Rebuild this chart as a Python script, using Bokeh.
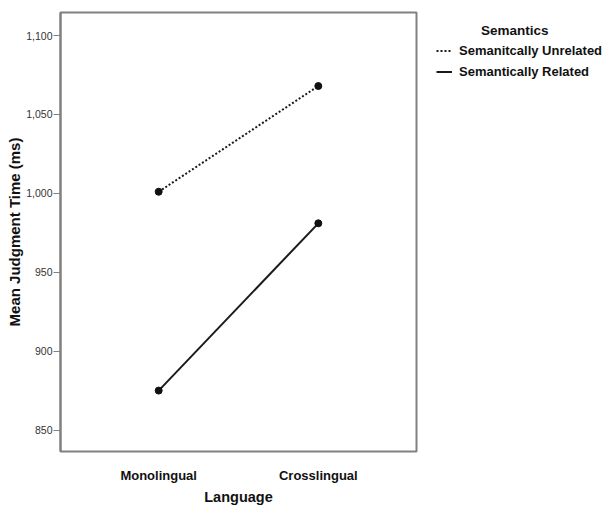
from bokeh.plotting import figure
from bokeh.models import (FixedTicker, NumeralTickFormatter, Range1d, Legend,
                          LegendItem)
from bokeh.embed import file_html
from bokeh.resources import INLINE

# ---- data ----
languages = ["Monolingual", "Crosslingual"]
unrelated = [1001, 1068]   # Semanitcally Unrelated
related = [875, 981]       # Semantically Related
y_ticks = [850, 900, 950, 1000, 1050, 1100]
legend_title = "Semantics"
series_names = ["Semanitcally Unrelated", "Semantically Related"]

FONT = "Liberation Sans"
xs = list(range(len(languages)))

p = figure(frame_width=356, frame_height=439, output_backend="svg",
           toolbar_location=None, min_border_left=60, min_border_top=12,
           min_border_right=188, min_border_bottom=54,
           x_range=Range1d(-0.615, 1.615), y_range=Range1d(836.4, 1114.6))

p.background_fill_color = "white"
p.border_fill_color = "white"
p.outline_line_color = "#808080"
p.outline_line_width = 2
p.xgrid.visible = False
p.ygrid.visible = False

# x axis
xa = p.xaxis[0]
xa.ticker = FixedTicker(ticks=xs)
xa.major_label_overrides = {i: lab for i, lab in zip(xs, languages)}
xa.axis_line_color = None
xa.major_tick_line_color = None
xa.minor_tick_line_color = None
xa.major_label_standoff = 10
xa.major_label_text_font = FONT
xa.major_label_text_font_style = "bold"
xa.major_label_text_font_size = "13px"
xa.major_label_text_color = "#111111"
xa.axis_label = "Language"
xa.axis_label_text_font = FONT
xa.axis_label_text_font_style = "bold"
xa.axis_label_text_font_size = "14.5px"
xa.axis_label_text_color = "#111111"
xa.axis_label_standoff = 3

# y axis
ya = p.yaxis[0]
ya.ticker = FixedTicker(ticks=y_ticks)
ya.formatter = NumeralTickFormatter(format="0,0")
ya.axis_line_color = "#808080"
ya.axis_line_width = 2
ya.major_tick_line_color = "#808080"
ya.major_tick_out = 7
ya.major_tick_in = 0
ya.minor_tick_line_color = None
ya.major_label_standoff = 1
ya.major_label_text_font = FONT
ya.major_label_text_font_size = "10.5px"
ya.major_label_text_color = "#333333"
ya.axis_label = "Mean Judgment Time (ms)"
ya.axis_label_text_font = FONT
ya.axis_label_text_font_style = "bold"
ya.axis_label_text_font_size = "15px"
ya.axis_label_text_color = "#111111"
ya.axis_label_standoff = 0

LINE = "#1a1a1a"
r_un = p.line(xs, unrelated, line_color=LINE, line_width=2, line_dash="2 2")
p.scatter(xs, unrelated, size=7, color="#111111")
r_rel = p.line(xs, related, line_color=LINE, line_width=2)
p.scatter(xs, related, size=7, color="#111111")

legend = Legend(items=[LegendItem(label=series_names[0], renderers=[r_un]),
                       LegendItem(label=series_names[1], renderers=[r_rel])],
                location=(20, 372), padding=0, margin=0, spacing=6,
                glyph_width=16, glyph_height=15, label_height=15,
                label_standoff=7, border_line_color=None,
                background_fill_alpha=0,
                title="\u00a0" * 12 + legend_title, title_standoff=5)
legend.label_text_font = FONT
legend.label_text_font_style = "bold"
legend.label_text_font_size = "13px"
legend.label_text_color = "#111111"
legend.title_text_font = FONT
legend.title_text_font_style = "bold"
legend.title_text_font_size = "13.5px"
legend.title_text_color = "#111111"
p.add_layout(legend, "right")

open("out.html", "w").write(file_html(p, INLINE))
